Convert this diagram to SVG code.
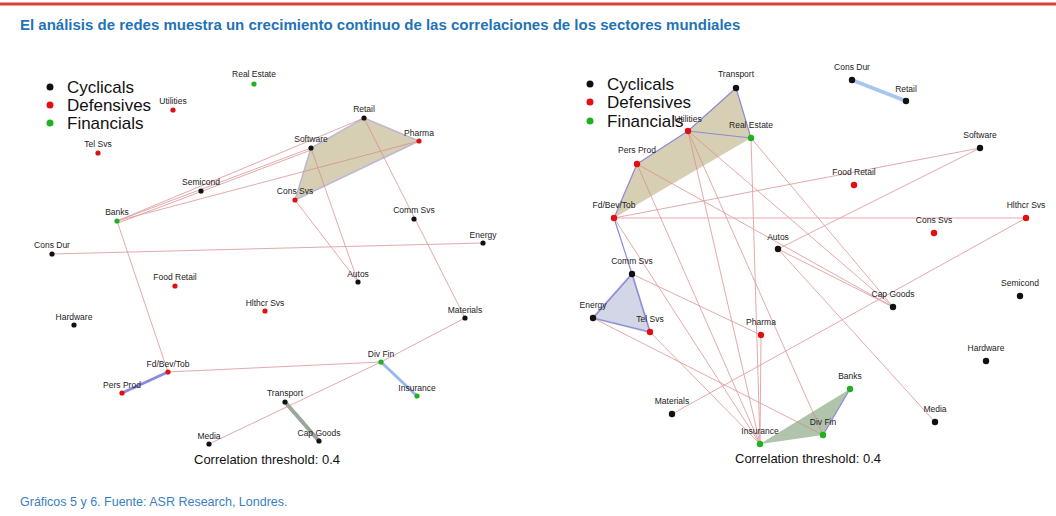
<svg xmlns="http://www.w3.org/2000/svg" width="1056" height="516" viewBox="0 0 1056 516">
<style>
text{font-family:"Liberation Sans",Arial,sans-serif}
.l{font-size:8.5px;text-anchor:middle;fill:#222}
.lg{font-size:17px;fill:#111}
.e{stroke:#d98a8a;stroke-width:0.9;fill:none;opacity:0.8}
.b{stroke:#8a8ad8;stroke-width:1.2;fill:none}
.c{fill:#111}.d{fill:#e01010}.f{fill:#20b020}
</style>
<rect width="1056" height="516" fill="#fff"/>
<line x1="0" y1="4" x2="1056" y2="4" stroke="#d9403a" stroke-width="3"/>
<text x="20" y="30" font-size="15" font-weight="bold" fill="#1f73b7">El análisis de redes muestra un crecimiento continuo de las correlaciones de los sectores mundiales</text>
<text x="20" y="506" font-size="12.5" fill="#3a7fc0">Gráficos 5 y 6. Fuente: ASR Research, Londres.</text>

<g id="legend-left">
<circle cx="50" cy="87" r="3.5" class="c"/><text x="67" y="93" class="lg">Cyclicals</text>
<circle cx="50" cy="105" r="3.5" class="d"/><text x="67" y="111" class="lg">Defensives</text>
<circle cx="50" cy="123" r="3.5" class="f"/><text x="67" y="129" class="lg">Financials</text>
</g>
<g id="legend-right">
<circle cx="590" cy="84" r="3.5" class="c"/><text x="607" y="90" class="lg">Cyclicals</text>
<circle cx="590" cy="102" r="3.5" class="d"/><text x="607" y="108" class="lg">Defensives</text>
<circle cx="590" cy="121" r="3.5" class="f"/><text x="607" y="127" class="lg">Financials</text>
</g>

<g id="connectors">
<!-- left clusters -->
<polygon points="364,118 419,141 295,200 311,148" fill="#c9bf9a" opacity="0.75" stroke="#a8a0c8" stroke-width="1.5"/>
<line x1="285" y1="402" x2="319" y2="441" stroke="#9aa89a" stroke-width="4"/>
<line x1="122" y1="393" x2="168" y2="372" stroke="#8a8ae0" stroke-width="3"/>
<line x1="381" y1="362" x2="417" y2="396" stroke="#9ab8f0" stroke-width="3"/>
<g class="e">
<line x1="117" y1="221" x2="364" y2="118"/>
<line x1="117" y1="221" x2="311" y2="148"/>
<line x1="118" y1="223" x2="311" y2="150"/>
<line x1="117" y1="221" x2="419" y2="141"/>
<line x1="364" y1="118" x2="465" y2="318"/>
<line x1="311" y1="148" x2="358" y2="282"/>
<line x1="295" y1="200" x2="358" y2="282"/>
<line x1="117" y1="221" x2="168" y2="372"/>
<line x1="52" y1="254" x2="483" y2="243"/>
<line x1="465" y1="318" x2="381" y2="362"/>
<line x1="381" y1="362" x2="209" y2="444"/>
<line x1="168" y1="372" x2="381" y2="362"/>
</g>
<!-- right clusters -->
<polygon points="736,88 751,138 614,218 637,164 688,131" fill="#c9bf9a" opacity="0.75"/>
<polygon points="632,274 650,332 593,318" fill="#c8cce0" opacity="0.8" stroke="#b0b0e0" stroke-width="2"/>
<polygon points="850,389 823,435 760,444" fill="#8faa88" opacity="0.7"/>
<line x1="852" y1="80" x2="906" y2="101" stroke="#a8c4f0" stroke-width="4"/>
<g class="b">
<line x1="736" y1="88" x2="751" y2="138"/>
<line x1="736" y1="88" x2="688" y2="131"/>
<line x1="688" y1="131" x2="751" y2="138"/>
<line x1="688" y1="131" x2="637" y2="164"/>
<line x1="637" y1="164" x2="614" y2="218"/>
<line x1="614" y1="218" x2="632" y2="274"/>
<line x1="632" y1="274" x2="650" y2="332"/>
<line x1="593" y1="318" x2="650" y2="332"/>
<line x1="632" y1="274" x2="593" y2="318"/>
<line x1="850" y1="389" x2="823" y2="435"/>
</g>
<g class="e">
<line x1="614" y1="218" x2="980" y2="148"/>
<line x1="614" y1="218" x2="1026" y2="218"/>
<line x1="614" y1="218" x2="760" y2="444"/>
<line x1="637" y1="164" x2="760" y2="444"/>
<line x1="637" y1="164" x2="893" y2="307"/>
<line x1="688" y1="131" x2="760" y2="444"/>
<line x1="688" y1="131" x2="823" y2="435"/>
<line x1="688" y1="131" x2="893" y2="307"/>
<line x1="751" y1="138" x2="760" y2="444"/>
<line x1="751" y1="138" x2="893" y2="307"/>
<line x1="778" y1="249" x2="980" y2="148"/>
<line x1="778" y1="249" x2="893" y2="307"/>
<line x1="778" y1="249" x2="935" y2="422"/>
<line x1="632" y1="274" x2="761" y2="335"/>
<line x1="593" y1="318" x2="823" y2="435"/>
<line x1="650" y1="332" x2="760" y2="444"/>
<line x1="672" y1="414" x2="1026" y2="218"/>
<line x1="761" y1="335" x2="760" y2="444"/>
</g>
</g>

<g id="nodes-left">
<g id="L-real-estate"><circle cx="254" cy="84" r="2.6" class="f"/><text x="254" y="77" class="l">Real Estate</text></g>
<g id="L-utilities"><circle cx="173" cy="110" r="2.6" class="d"/><text x="173" y="104" class="l">Utilities</text></g>
<g id="L-retail"><circle cx="364" cy="118" r="2.6" class="c"/><text x="364" y="112" class="l">Retail</text></g>
<g id="L-pharma"><circle cx="419" cy="141" r="2.6" class="d"/><text x="419" y="136" class="l">Pharma</text></g>
<g id="L-software"><circle cx="311" cy="148" r="2.6" class="c"/><text x="311" y="142" class="l">Software</text></g>
<g id="L-tel-svs"><circle cx="98" cy="153" r="2.6" class="d"/><text x="98" y="147" class="l">Tel Svs</text></g>
<g id="L-semicond"><circle cx="201" cy="191" r="2.6" class="c"/><text x="201" y="185" class="l">Semicond</text></g>
<g id="L-cons-svs"><circle cx="295" cy="200" r="2.6" class="d"/><text x="295" y="194" class="l">Cons Svs</text></g>
<g id="L-banks"><circle cx="117" cy="221" r="2.6" class="f"/><text x="117" y="215" class="l">Banks</text></g>
<g id="L-comm-svs"><circle cx="414" cy="219" r="2.6" class="c"/><text x="414" y="213" class="l">Comm Svs</text></g>
<g id="L-energy"><circle cx="483" cy="243" r="2.6" class="c"/><text x="483" y="238" class="l">Energy</text></g>
<g id="L-cons-dur"><circle cx="52" cy="254" r="2.6" class="c"/><text x="52" y="248" class="l">Cons Dur</text></g>
<g id="L-food-retail"><circle cx="175" cy="286" r="2.6" class="d"/><text x="175" y="280" class="l">Food Retail</text></g>
<g id="L-autos"><circle cx="358" cy="282" r="2.6" class="c"/><text x="358" y="277" class="l">Autos</text></g>
<g id="L-hlthcr-svs"><circle cx="265" cy="311" r="2.6" class="d"/><text x="265" y="306" class="l">Hlthcr Svs</text></g>
<g id="L-hardware"><circle cx="74" cy="325" r="2.6" class="c"/><text x="74" y="320" class="l">Hardware</text></g>
<g id="L-materials"><circle cx="465" cy="318" r="2.6" class="c"/><text x="465" y="313" class="l">Materials</text></g>
<g id="L-div-fin"><circle cx="381" cy="362" r="2.6" class="f"/><text x="381" y="357" class="l">Div Fin</text></g>
<g id="L-fd-bev-tob"><circle cx="168" cy="372" r="2.6" class="d"/><text x="168" y="367" class="l">Fd/Bev/Tob</text></g>
<g id="L-pers-prod"><circle cx="122" cy="393" r="2.6" class="d"/><text x="122" y="388" class="l">Pers Prod</text></g>
<g id="L-insurance"><circle cx="417" cy="396" r="2.6" class="f"/><text x="417" y="391" class="l">Insurance</text></g>
<g id="L-transport"><circle cx="285" cy="402" r="2.6" class="c"/><text x="285" y="396" class="l">Transport</text></g>
<g id="L-media"><circle cx="209" cy="444" r="2.6" class="c"/><text x="209" y="439" class="l">Media</text></g>
<g id="L-cap-goods"><circle cx="319" cy="441" r="2.6" class="c"/><text x="319" y="436" class="l">Cap Goods</text></g>
<text x="267" y="464" font-size="13" text-anchor="middle" fill="#111">Correlation threshold: 0.4</text>
</g>

<g id="nodes-right">
<g id="R-cons-dur"><circle cx="852" cy="80" r="3.2" class="c"/><text x="852" y="70" class="l">Cons Dur</text></g>
<g id="R-retail"><circle cx="906" cy="101" r="3.2" class="c"/><text x="906" y="92" class="l">Retail</text></g>
<g id="R-transport"><circle cx="736" cy="88" r="3.2" class="c"/><text x="736" y="77" class="l">Transport</text></g>
<g id="R-utilities"><circle cx="688" cy="131" r="3.2" class="d"/><text x="688" y="122" class="l">Utilities</text></g>
<g id="R-real-estate"><circle cx="751" cy="138" r="3.2" class="f"/><text x="751" y="128" class="l">Real Estate</text></g>
<g id="R-software"><circle cx="980" cy="148" r="3.2" class="c"/><text x="980" y="138" class="l">Software</text></g>
<g id="R-pers-prod"><circle cx="637" cy="164" r="3.2" class="d"/><text x="637" y="153" class="l">Pers Prod</text></g>
<g id="R-food-retail"><circle cx="854" cy="185" r="3.2" class="d"/><text x="854" y="175" class="l">Food Retail</text></g>
<g id="R-fd-bev-tob"><circle cx="614" cy="218" r="3.2" class="d"/><text x="614" y="208" class="l">Fd/Bev/Tob</text></g>
<g id="R-hlthcr-svs"><circle cx="1026" cy="218" r="3.2" class="d"/><text x="1026" y="208" class="l">Hlthcr Svs</text></g>
<g id="R-cons-svs"><circle cx="934" cy="233" r="3.2" class="d"/><text x="934" y="223" class="l">Cons Svs</text></g>
<g id="R-autos"><circle cx="778" cy="249" r="3.2" class="c"/><text x="778" y="240" class="l">Autos</text></g>
<g id="R-comm-svs"><circle cx="632" cy="274" r="3.2" class="c"/><text x="632" y="264" class="l">Comm Svs</text></g>
<g id="R-semicond"><circle cx="1020" cy="296" r="3.2" class="c"/><text x="1020" y="286" class="l">Semicond</text></g>
<g id="R-cap-goods"><circle cx="893" cy="307" r="3.2" class="c"/><text x="893" y="297" class="l">Cap Goods</text></g>
<g id="R-energy"><circle cx="593" cy="318" r="3.2" class="c"/><text x="593" y="308" class="l">Energy</text></g>
<g id="R-tel-svs"><circle cx="650" cy="332" r="3.2" class="d"/><text x="650" y="322" class="l">Tel Svs</text></g>
<g id="R-pharma"><circle cx="761" cy="335" r="3.2" class="d"/><text x="761" y="325" class="l">Pharma</text></g>
<g id="R-hardware"><circle cx="986" cy="361" r="3.2" class="c"/><text x="986" y="351" class="l">Hardware</text></g>
<g id="R-banks"><circle cx="850" cy="389" r="3.2" class="f"/><text x="850" y="379" class="l">Banks</text></g>
<g id="R-materials"><circle cx="672" cy="414" r="3.2" class="c"/><text x="672" y="404" class="l">Materials</text></g>
<g id="R-media"><circle cx="935" cy="422" r="3.2" class="c"/><text x="935" y="412" class="l">Media</text></g>
<g id="R-div-fin"><circle cx="823" cy="435" r="3.2" class="f"/><text x="823" y="425" class="l">Div Fin</text></g>
<g id="R-insurance"><circle cx="760" cy="444" r="3.2" class="f"/><text x="760" y="434" class="l">Insurance</text></g>
<text x="808" y="463" font-size="13" text-anchor="middle" fill="#111">Correlation threshold: 0.4</text>
</g>
</svg>
